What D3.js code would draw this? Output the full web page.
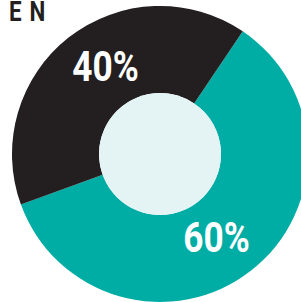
<!DOCTYPE html>
<html>
<head>
<meta charset="utf-8">
<script src="https://cdn.jsdelivr.net/npm/d3@7"></script>
<style>
  html, body { margin: 0; padding: 0; background: #fff; }
  svg { display: block; }
</style>
</head>
<body>
<div id="chart"></div>
<script>
const categories = ['teal', 'dark']
const values = [60, 40]
const labels = ['60%', '40%']
const colors = ['#00ada5', '#231f20']
const title = 'EN'

const width = 301
const height = 302
const cx = 160, cy = 154
const outerR = 148, innerR = 61
const font = 'Roboto, "Open Sans", sans-serif'

const svg = d3.select('#chart')
    .append('svg')
    .attr('width', width)
    .attr('height', height)

// title (condensed look via horizontal squeeze)
svg.append('text')
    .attr('transform', 'translate(9,21) scale(0.8,1)')
    .attr('font-family', font)
    .attr('font-weight', 'bold')
    .attr('font-size', 28)
    .attr('letter-spacing', '10px')
    .attr('fill', '#231f20')
    .text(title)

const g = svg.append('g')
    .attr('transform', 'translate(' + cx + ',' + cy + ')')

const startDeg = 34
const pie = d3.pie()
    .sort(null)
    .value(d => d)
    .startAngle(startDeg * Math.PI / 180)
    .endAngle((startDeg + 360) * Math.PI / 180)

const arcs = pie(values)

const arc = d3.arc().innerRadius(innerR).outerRadius(outerR)

g.selectAll('path.slice')
    .data(arcs)
    .enter()
    .append('path')
    .attr('class', 'slice')
    .attr('d', arc)
    .attr('fill', (d, i) => colors[i])

// light centre
g.append('circle')
    .attr('r', innerR)
    .attr('fill', '#e4f3f3')

// labels sit a little clockwise of the slice middle
const shift = 5 * Math.PI / 180
const labelR = 102
g.selectAll('text.lbl')
    .data(arcs)
    .enter()
    .append('text')
    .attr('class', 'lbl')
    .attr('transform', d => {
        const a = (d.startAngle + d.endAngle) / 2 + shift
        return 'translate(' + (Math.sin(a) * labelR + 1) + ',' + (-Math.cos(a) * labelR) + ') scale(0.82,1)'
    })
    .attr('dy', '0.3em')
    .attr('text-anchor', 'middle')
    .attr('font-family', font)
    .attr('font-weight', 'bold')
    .attr('font-size', 43)
    .attr('fill', '#fff')
    .text((d, i) => labels[i])
</script>
</body>
</html>
